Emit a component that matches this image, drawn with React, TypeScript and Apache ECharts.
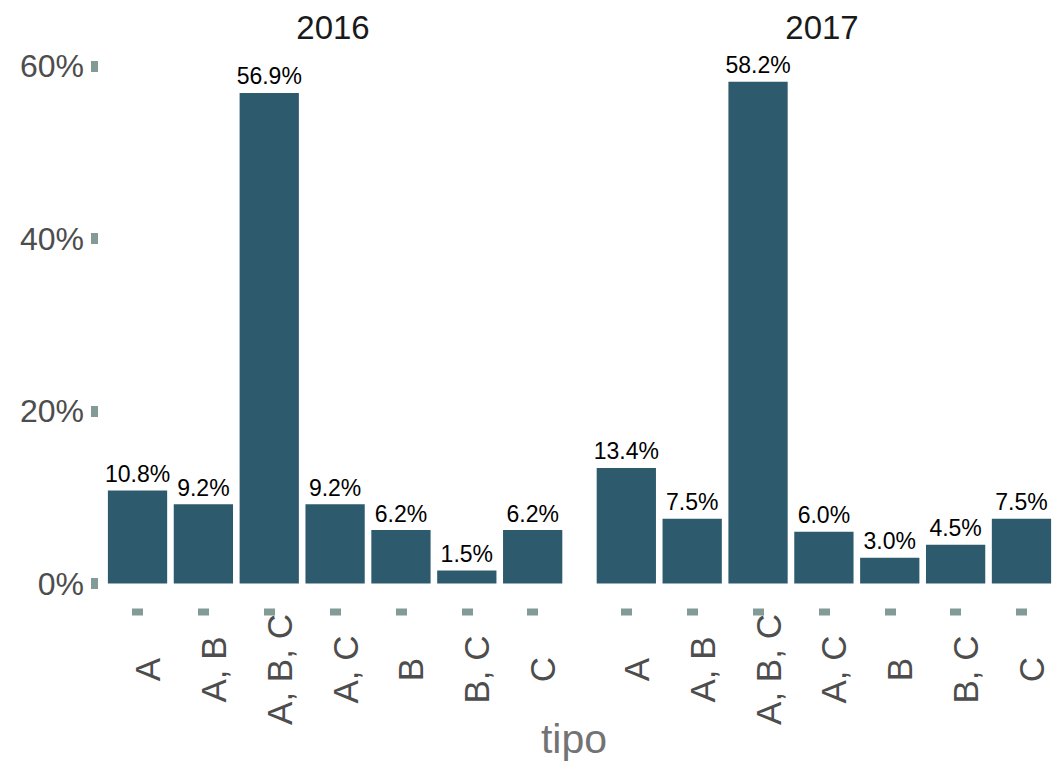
import React, { useEffect, useRef } from "react";
import * as echarts from "echarts";

const categories = ["A", "A, B", "A, B, C", "A, C", "B", "B, C", "C"];
const values2016 = [10.8, 9.2, 56.9, 9.2, 6.2, 1.5, 6.2];
const values2017 = [13.4, 7.5, 58.2, 6.0, 3.0, 4.5, 7.5];
const yTicks = [0, 20, 40, 60];
const panelTitles = ["2016", "2017"];
const xTitle = "tipo";

const FONT = '"Liberation Sans", Arial, Helvetica, sans-serif';
const BAR = "#2e5a6e";
const TICK = "#839b97";
const AXIS_TEXT = "#4d4d4d";

export default function App() {
  const ref = useRef<HTMLDivElement>(null);
  useEffect(() => {
    if (!ref.current) return;
    const chart = echarts.init(ref.current, undefined, { renderer: "svg" });
    const yMax = 61.11;
    const mkX = (gi: number) => ({
      type: "category",
      gridIndex: gi,
      data: categories,
      offset: 25,
      axisLine: { show: false, onZero: false },
      axisTick: {
        show: true,
        alignWithLabel: true,
        length: 7,
        lineStyle: { color: TICK, width: 11 },
      },
      axisLabel: {
        rotate: 90,
        align: "center",
        verticalAlign: "middle",
        margin: 61,
        fontSize: 35,
        lineHeight: 20,
        fontFamily: FONT,
        color: AXIS_TEXT,
        interval: 0,
        formatter: (v: string) => "\n" + v,
      },
      splitLine: { show: false },
    });
    const mkSeries = (gi: number, data: number[]) => ({
      type: "bar",
      xAxisIndex: gi,
      yAxisIndex: gi,
      data,
      barCategoryGap: "10%",
      itemStyle: { color: BAR },
      label: {
        show: true,
        position: "top",
        distance: 5,
        fontSize: 23,
        fontFamily: FONT,
        color: "#000000",
        formatter: (p: any) => Number(p.value).toFixed(1) + "%",
      },
    });
    chart.setOption({
      animation: false,
      backgroundColor: "#ffffff",
      grid: [
        { left: 104.6, top: 56.6, width: 461, height: 526.9 },
        { left: 593.4, top: 56.6, width: 461, height: 526.9 },
      ],
      xAxis: [mkX(0), mkX(1)],
      yAxis: [
        {
          type: "value",
          gridIndex: 0,
          min: 0,
          max: yMax,
          offset: 6.6,
          axisLine: { show: false },
          splitLine: { show: false },
          axisTick: {
            show: true,
            customValues: yTicks,
            length: 7,
            lineStyle: { color: TICK, width: 11 },
          },
          axisLabel: {
            customValues: yTicks,
            formatter: (v: number) => v + "%",
            fontSize: 32,
            fontFamily: FONT,
            color: AXIS_TEXT,
            margin: 14,
          },
        },
        {
          type: "value",
          gridIndex: 1,
          min: 0,
          max: yMax,
          show: false,
          splitLine: { show: false },
        },
      ],
      series: [mkSeries(0, values2016), mkSeries(1, values2017)],
      graphic: [
        {
          type: "text",
          x: 333,
          y: 27,
          style: {
            text: panelTitles[0],
            textAlign: "center",
            textVerticalAlign: "middle",
            font: `33px ${FONT}`,
            fill: "#1a1a1a",
          },
        },
        {
          type: "text",
          x: 822,
          y: 27,
          style: {
            text: panelTitles[1],
            textAlign: "center",
            textVerticalAlign: "middle",
            font: `33px ${FONT}`,
            fill: "#1a1a1a",
          },
        },
        {
          type: "text",
          x: 574,
          y: 739,
          style: {
            text: xTitle,
            textAlign: "center",
            textVerticalAlign: "middle",
            font: `41px ${FONT}`,
            fill: "#737373",
          },
        },
      ],
    });
    return () => chart.dispose();
  }, []);
  return (
    <div
      ref={ref}
      style={{ position: "fixed", left: 0, top: 0, width: 1056, height: 766 }}
    />
  );
}
